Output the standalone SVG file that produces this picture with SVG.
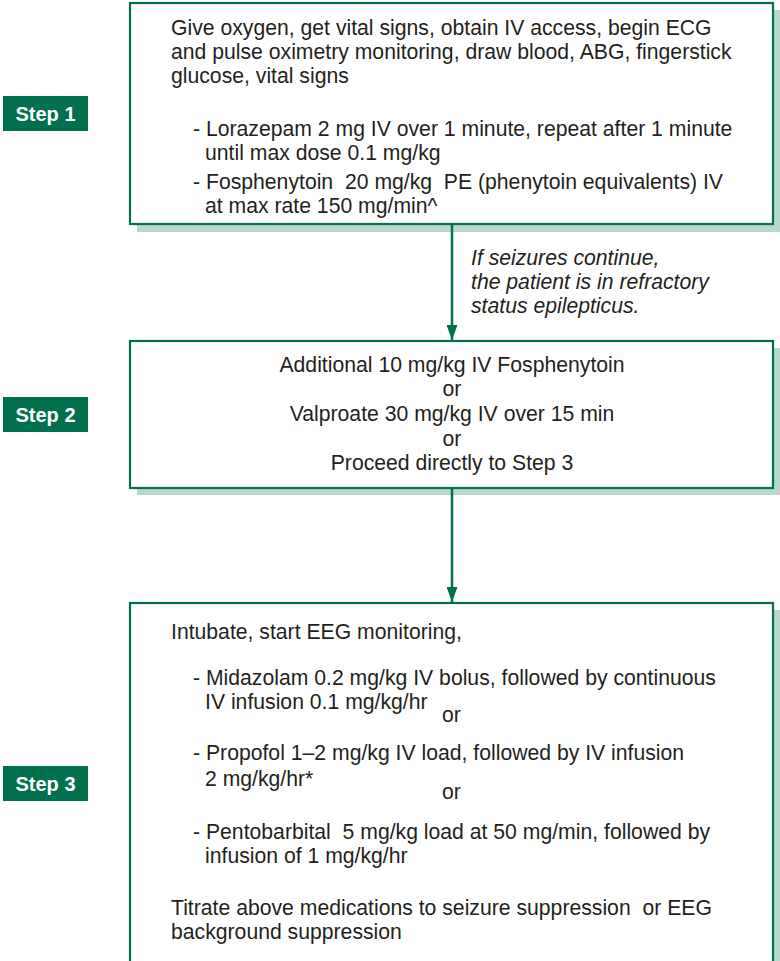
<svg xmlns="http://www.w3.org/2000/svg" width="780" height="961" viewBox="0 0 780 961">
<style>
.shadow{fill:#b9d8cc;}
.box{fill:#ffffff;stroke:#00704f;stroke-width:2.2;}
.step{fill:#00704f;}
.steptxt{font-family:"Liberation Sans",Arial,sans-serif;font-size:20px;font-weight:bold;fill:#ffffff;text-anchor:middle;}
.t{font-family:"Liberation Sans",Arial,sans-serif;font-size:21.2px;fill:#231f20;white-space:pre;}
.c{text-anchor:middle;}
.i{font-style:italic;}
.conn{stroke:#00704f;stroke-width:2.5;fill:none;}
</style>
<defs>
<marker id="ah" markerWidth="15" markerHeight="11" refX="15" refY="5.5" orient="auto" markerUnits="userSpaceOnUse" viewBox="0 0 15 11">
<path d="M0,0 L15,5.5 L0,11 Z" fill="#00704f"/>
</marker>
</defs>

<g id="step1-label">
<rect class="step" x="3" y="96" width="85" height="35"/>
<text class="steptxt" x="45.5" y="120.5">Step 1</text>
</g>
<g id="step2-label">
<rect class="step" x="3" y="397" width="85" height="35"/>
<text class="steptxt" x="45.5" y="421.5">Step 2</text>
</g>
<g id="step3-label">
<rect class="step" x="3" y="766" width="85" height="35"/>
<text class="steptxt" x="45.5" y="790.5">Step 3</text>
</g>

<g id="box1">
<rect class="shadow" x="137" y="10" width="643" height="222"/>
<rect class="box" x="130" y="3" width="643" height="221"/>
<text class="t" x="171" y="35">Give oxygen, get vital signs, obtain IV access, begin ECG</text>
<text class="t" x="171" y="59">and pulse oximetry monitoring, draw blood, ABG, fingerstick</text>
<text class="t" x="171" y="83">glucose, vital signs</text>
<text class="t" x="193" y="136">- Lorazepam 2 mg IV over 1 minute, repeat after 1 minute</text>
<text class="t" x="205" y="160">until max dose 0.1 mg/kg</text>
<text class="t" x="193" y="189" xml:space="preserve">- Fosphenytoin  20 mg/kg  PE (phenytoin equivalents) IV</text>
<text class="t" x="205" y="213">at max rate 150 mg/min^</text>
</g>

<g id="box2">
<rect class="shadow" x="137" y="348" width="643" height="147"/>
<rect class="box" x="130" y="341" width="643" height="147"/>
<text class="t c" x="452" y="372">Additional 10 mg/kg IV Fosphenytoin</text>
<text class="t c" x="452" y="396">or</text>
<text class="t c" x="452" y="421">Valproate 30 mg/kg IV over 15 min</text>
<text class="t c" x="452" y="446">or</text>
<text class="t c" x="452" y="470">Proceed directly to Step 3</text>
</g>

<g id="box3">
<rect class="shadow" x="137" y="610" width="643" height="360"/>
<rect class="box" x="130" y="603" width="643" height="362"/>
<text class="t" x="171" y="639">Intubate, start EEG monitoring,</text>
<text class="t" x="193" y="685">- Midazolam 0.2 mg/kg IV bolus, followed by continuous</text>
<text class="t" x="205" y="709">IV infusion 0.1 mg/kg/hr</text>
<text class="t" x="442" y="722">or</text>
<text class="t" x="193" y="760">- Propofol 1–2 mg/kg IV load, followed by IV infusion</text>
<text class="t" x="205" y="786">2 mg/kg/hr*</text>
<text class="t" x="442" y="799">or</text>
<text class="t" x="193" y="839" xml:space="preserve">- Pentobarbital  5 mg/kg load at 50 mg/min, followed by</text>
<text class="t" x="205" y="863">infusion of 1 mg/kg/hr</text>
<text class="t" x="171" y="915" xml:space="preserve">Titrate above medications to seizure suppression  or EEG</text>
<text class="t" x="171" y="939">background suppression</text>
</g>

<g id="connectors">
<line class="conn" x1="452" y1="225" x2="452" y2="340" marker-end="url(#ah)"/>
<line class="conn" x1="452" y1="489" x2="452" y2="602" marker-end="url(#ah)"/>
<text class="t i" x="471" y="265">If seizures continue,</text>
<text class="t i" x="471" y="289">the patient is in refractory</text>
<text class="t i" x="471" y="313">status epilepticus.</text>
</g>
</svg>
